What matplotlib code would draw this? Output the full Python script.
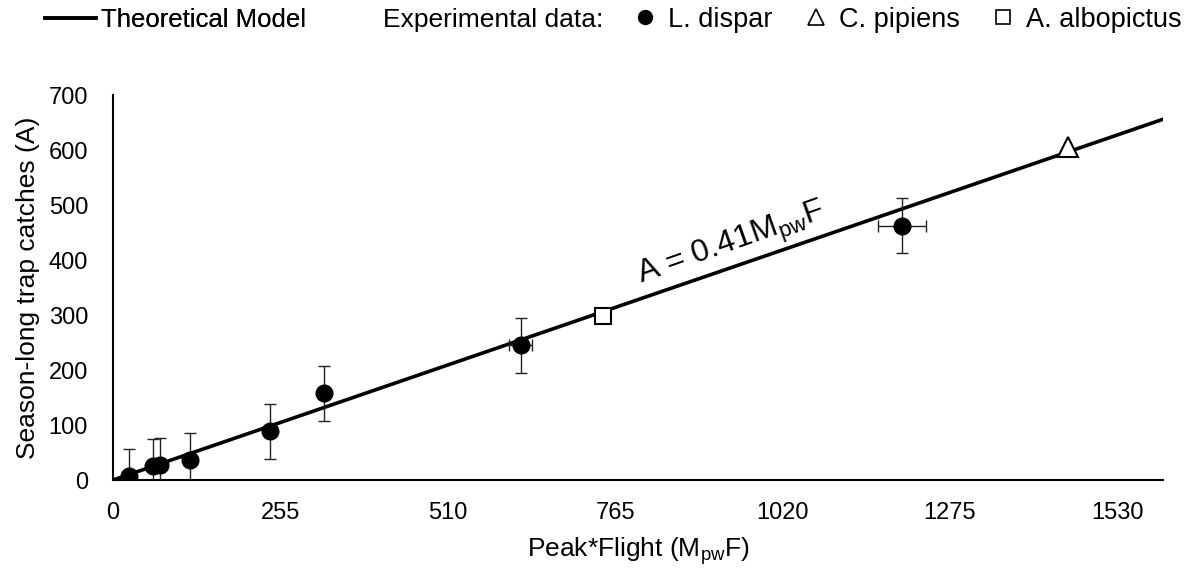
import matplotlib.pyplot as plt
from matplotlib.lines import Line2D

plt.rcParams['font.family'] = ['Liberation Sans', 'DejaVu Sans']
plt.rcParams['mathtext.fontset'] = 'custom'
plt.rcParams['mathtext.rm'] = 'Liberation Sans'

# L. dispar field data (peak*flight vs season-long catches)
dispar_x = [24, 61, 72, 117, 239, 321, 621, 1202]
dispar_y = [7, 25, 27, 36, 89, 158, 245, 462]
dispar_yerr = [50, 50, 50, 50, 50, 50, 50, 50]
dispar_xerr = [0, 0, 0, 0, 0, 0, 17, 36]

pipiens_x = [1455]
pipiens_y = [605]
albopictus_x = [746]
albopictus_y = [298]

slope = 0.41
model_x = [0, 1600]
model_y = [slope * v for v in model_x]

x_ticks = [0, 255, 510, 765, 1020, 1275, 1530]
y_ticks = [0, 100, 200, 300, 400, 500, 600, 700]

fig = plt.figure(figsize=(11.96, 5.69), dpi=100)
ax = fig.add_axes([0.0945, 0.1564, 0.878, 0.6766])

ax.plot(model_x, model_y, color='black', lw=2.6, zorder=2)
ax.errorbar(dispar_x, dispar_y, yerr=dispar_yerr, xerr=dispar_xerr, fmt='o',
            color='black', ms=12, ecolor='#222222', elinewidth=1,
            capsize=4.3, capthick=1, zorder=3)
ax.plot(pipiens_x, pipiens_y, '^', ms=14, mfc='white', mec='black', mew=1.5, zorder=4)
ax.plot(albopictus_x, albopictus_y, 's', ms=12, mfc='white', mec='black', mew=1.5, zorder=4)

ax.text(943, 427, r"A = 0.41M$_\mathregular{pw}$F", fontsize=23, rotation=19.5,
        ha='center', va='center', rotation_mode='anchor')

ax.set_xlim(0, 1600)
ax.set_ylim(0, 700)
ax.set_xticks(x_ticks)
ax.set_yticks(y_ticks)
ax.tick_params(length=0, labelsize=17)
ax.tick_params(axis='y', pad=18)
ax.tick_params(axis='x', pad=16)
for s in ['top', 'right']:
    ax.spines[s].set_visible(False)
for s in ['left', 'bottom']:
    ax.spines[s].set_linewidth(1.5)
    ax.spines[s].set_color('black')
ax.spines['bottom'].set_zorder(1)

ax.set_xlabel(r"Peak*Flight (M$_\mathregular{pw}$F)", fontsize=19, labelpad=8)
ax.set_ylabel("Season-long trap catches (A)", fontsize=19, labelpad=6)

# legend row at the top
model_h = Line2D([], [], color='black', lw=2.6, label='Theoretical Model')
leg1 = fig.legend(handles=[model_h], loc='center left', bbox_to_anchor=(0.0376, 0.965),
                  frameon=False, fontsize=18.5, handlelength=2.0, handletextpad=0.2,
                  borderpad=0, borderaxespad=0)
fig.text(0.3200, 0.965, "Experimental data:", fontsize=19, va='center', ha='left')
h1 = Line2D([], [], ls='none', marker='o', ms=10, color='black', label='L. dispar')
h2 = Line2D([], [], ls='none', marker='^', ms=11, mfc='white', mec='black', mew=1.2, label='C. pipiens')
h3 = Line2D([], [], ls='none', marker='s', ms=10, mfc='white', mec='black', mew=1.2, label='A. albopictus')
fig.legend(handles=[h1, h2, h3], ncol=3, loc='center left', bbox_to_anchor=(0.5305, 0.965),
           frameon=False, fontsize=19.5, handlelength=0.8, handletextpad=0.44,
           columnspacing=1.2, borderpad=0, borderaxespad=0)
fig.add_artist(leg1)

fig.savefig('out.png', dpi=100)
